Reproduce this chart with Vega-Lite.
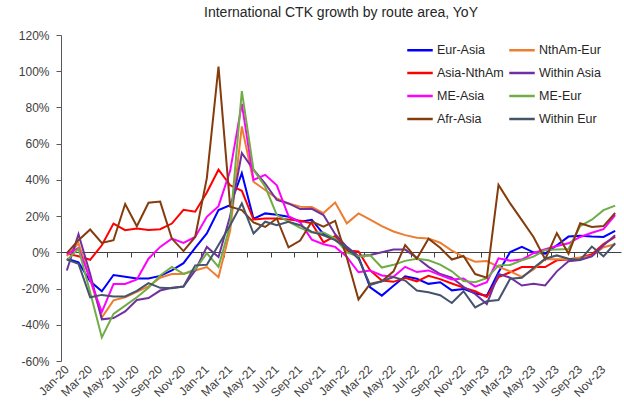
{
"$schema": "https://vega.github.io/schema/vega-lite/v6.json",
"width": 560, "height": 326,
"autosize": {"type": "none"},
"padding": {"left": 61, "top": 35, "right": 3, "bottom": 49},
"config": {"font": "Liberation Sans", "view": {"stroke": null}},
"title": {"text": "International CTK growth by route area, YoY", "fontSize": 14, "fontWeight": "normal", "color": "#262626", "offset": 9, "anchor": "middle"},
"data": {"values": [
{"m":"Jan-20","s":"Eur-Asia","v":-3.5},{"m":"Feb-20","s":"Eur-Asia","v":-5.5},{"m":"Mar-20","s":"Eur-Asia","v":-16},{"m":"Apr-20","s":"Eur-Asia","v":-21.5},{"m":"May-20","s":"Eur-Asia","v":-12.5},{"m":"Jun-20","s":"Eur-Asia","v":-13.5},{"m":"Jul-20","s":"Eur-Asia","v":-14.5},{"m":"Aug-20","s":"Eur-Asia","v":-14.5},{"m":"Sep-20","s":"Eur-Asia","v":-13},{"m":"Oct-20","s":"Eur-Asia","v":-10},{"m":"Nov-20","s":"Eur-Asia","v":-6},{"m":"Dec-20","s":"Eur-Asia","v":2.5},
{"m":"Jan-21","s":"Eur-Asia","v":10.4},{"m":"Feb-21","s":"Eur-Asia","v":23.3},{"m":"Mar-21","s":"Eur-Asia","v":26},{"m":"Apr-21","s":"Eur-Asia","v":43.7},{"m":"May-21","s":"Eur-Asia","v":18.5},{"m":"Jun-21","s":"Eur-Asia","v":21.5},{"m":"Jul-21","s":"Eur-Asia","v":20.8},{"m":"Aug-21","s":"Eur-Asia","v":19.6},{"m":"Sep-21","s":"Eur-Asia","v":16.9},{"m":"Oct-21","s":"Eur-Asia","v":18},{"m":"Nov-21","s":"Eur-Asia","v":10},{"m":"Dec-21","s":"Eur-Asia","v":7},
{"m":"Jan-22","s":"Eur-Asia","v":1.5},{"m":"Feb-22","s":"Eur-Asia","v":-2.5},{"m":"Mar-22","s":"Eur-Asia","v":-19.3},{"m":"Apr-22","s":"Eur-Asia","v":-23.9},{"m":"May-22","s":"Eur-Asia","v":-18.4},{"m":"Jun-22","s":"Eur-Asia","v":-13.2},{"m":"Jul-22","s":"Eur-Asia","v":-14.6},{"m":"Aug-22","s":"Eur-Asia","v":-17.4},{"m":"Sep-22","s":"Eur-Asia","v":-16.5},{"m":"Oct-22","s":"Eur-Asia","v":-21},{"m":"Nov-22","s":"Eur-Asia","v":-20.2},{"m":"Dec-22","s":"Eur-Asia","v":-22.6},
{"m":"Jan-23","s":"Eur-Asia","v":-24},{"m":"Feb-23","s":"Eur-Asia","v":-11},{"m":"Mar-23","s":"Eur-Asia","v":0.2},{"m":"Apr-23","s":"Eur-Asia","v":3},{"m":"May-23","s":"Eur-Asia","v":0},{"m":"Jun-23","s":"Eur-Asia","v":-0.7},{"m":"Jul-23","s":"Eur-Asia","v":3.9},{"m":"Aug-23","s":"Eur-Asia","v":8.7},{"m":"Sep-23","s":"Eur-Asia","v":9.2},{"m":"Oct-23","s":"Eur-Asia","v":8.7},{"m":"Nov-23","s":"Eur-Asia","v":8.5},{"m":"Dec-23","s":"Eur-Asia","v":11.9},

{"m":"Jan-20","s":"Asia-NthAm","v":-0.7},{"m":"Feb-20","s":"Asia-NthAm","v":-2.2},{"m":"Mar-20","s":"Asia-NthAm","v":-4.1},{"m":"Apr-20","s":"Asia-NthAm","v":3.9},{"m":"May-20","s":"Asia-NthAm","v":15.9},{"m":"Jun-20","s":"Asia-NthAm","v":12.2},{"m":"Jul-20","s":"Asia-NthAm","v":13.1},{"m":"Aug-20","s":"Asia-NthAm","v":12.4},{"m":"Sep-20","s":"Asia-NthAm","v":12.8},{"m":"Oct-20","s":"Asia-NthAm","v":15.9},{"m":"Nov-20","s":"Asia-NthAm","v":23.5},{"m":"Dec-20","s":"Asia-NthAm","v":22.4},
{"m":"Jan-21","s":"Asia-NthAm","v":33},{"m":"Feb-21","s":"Asia-NthAm","v":45.6},{"m":"Mar-21","s":"Asia-NthAm","v":37},{"m":"Apr-21","s":"Asia-NthAm","v":34},{"m":"May-21","s":"Asia-NthAm","v":18.1},{"m":"Jun-21","s":"Asia-NthAm","v":18.7},{"m":"Jul-21","s":"Asia-NthAm","v":18.7},{"m":"Aug-21","s":"Asia-NthAm","v":18.1},{"m":"Sep-21","s":"Asia-NthAm","v":17.4},{"m":"Oct-21","s":"Asia-NthAm","v":16},{"m":"Nov-21","s":"Asia-NthAm","v":5.5},{"m":"Dec-21","s":"Asia-NthAm","v":9},
{"m":"Jan-22","s":"Asia-NthAm","v":1},{"m":"Feb-22","s":"Asia-NthAm","v":0.5},{"m":"Mar-22","s":"Asia-NthAm","v":-10},{"m":"Apr-22","s":"Asia-NthAm","v":-15.6},{"m":"May-22","s":"Asia-NthAm","v":-16.3},{"m":"Jun-22","s":"Asia-NthAm","v":-14},{"m":"Jul-22","s":"Asia-NthAm","v":-16},{"m":"Aug-22","s":"Asia-NthAm","v":-13},{"m":"Sep-22","s":"Asia-NthAm","v":-14.8},{"m":"Oct-22","s":"Asia-NthAm","v":-17.2},{"m":"Nov-22","s":"Asia-NthAm","v":-19.5},{"m":"Dec-22","s":"Asia-NthAm","v":-21.5},
{"m":"Jan-23","s":"Asia-NthAm","v":-24.6},{"m":"Feb-23","s":"Asia-NthAm","v":-13.7},{"m":"Mar-23","s":"Asia-NthAm","v":-11},{"m":"Apr-23","s":"Asia-NthAm","v":-8.1},{"m":"May-23","s":"Asia-NthAm","v":-8.1},{"m":"Jun-23","s":"Asia-NthAm","v":-8.1},{"m":"Jul-23","s":"Asia-NthAm","v":-4.4},{"m":"Aug-23","s":"Asia-NthAm","v":-4},{"m":"Sep-23","s":"Asia-NthAm","v":-3},{"m":"Oct-23","s":"Asia-NthAm","v":-1},{"m":"Nov-23","s":"Asia-NthAm","v":4.5},{"m":"Dec-23","s":"Asia-NthAm","v":8.5},

{"m":"Jan-20","s":"NthAm-Eur","v":-2},{"m":"Feb-20","s":"NthAm-Eur","v":5},{"m":"Mar-20","s":"NthAm-Eur","v":-15},{"m":"Apr-20","s":"NthAm-Eur","v":-36},{"m":"May-20","s":"NthAm-Eur","v":-26.5},{"m":"Jun-20","s":"NthAm-Eur","v":-24.8},{"m":"Jul-20","s":"NthAm-Eur","v":-21.8},{"m":"Aug-20","s":"NthAm-Eur","v":-18.8},{"m":"Sep-20","s":"NthAm-Eur","v":-14},{"m":"Oct-20","s":"NthAm-Eur","v":-12},{"m":"Nov-20","s":"NthAm-Eur","v":-11.9},{"m":"Dec-20","s":"NthAm-Eur","v":-10},
{"m":"Jan-21","s":"NthAm-Eur","v":-8.1},{"m":"Feb-21","s":"NthAm-Eur","v":-13.7},{"m":"Mar-21","s":"NthAm-Eur","v":12},{"m":"Apr-21","s":"NthAm-Eur","v":69.5},{"m":"May-21","s":"NthAm-Eur","v":39},{"m":"Jun-21","s":"NthAm-Eur","v":34.4},{"m":"Jul-21","s":"NthAm-Eur","v":29.8},{"m":"Aug-21","s":"NthAm-Eur","v":27},{"m":"Sep-21","s":"NthAm-Eur","v":25.2},{"m":"Oct-21","s":"NthAm-Eur","v":25},{"m":"Nov-21","s":"NthAm-Eur","v":21.7},{"m":"Dec-21","s":"NthAm-Eur","v":27.5},
{"m":"Jan-22","s":"NthAm-Eur","v":16},{"m":"Feb-22","s":"NthAm-Eur","v":21.5},{"m":"Mar-22","s":"NthAm-Eur","v":18},{"m":"Apr-22","s":"NthAm-Eur","v":14.5},{"m":"May-22","s":"NthAm-Eur","v":11.5},{"m":"Jun-22","s":"NthAm-Eur","v":9.5},{"m":"Jul-22","s":"NthAm-Eur","v":8},{"m":"Aug-22","s":"NthAm-Eur","v":7.6},{"m":"Sep-22","s":"NthAm-Eur","v":5.3},{"m":"Oct-22","s":"NthAm-Eur","v":1},{"m":"Nov-22","s":"NthAm-Eur","v":-2.5},{"m":"Dec-22","s":"NthAm-Eur","v":-5.2},
{"m":"Jan-23","s":"NthAm-Eur","v":-4.8},{"m":"Feb-23","s":"NthAm-Eur","v":-8},{"m":"Mar-23","s":"NthAm-Eur","v":-10.5},{"m":"Apr-23","s":"NthAm-Eur","v":-13.5},{"m":"May-23","s":"NthAm-Eur","v":-9.5},{"m":"Jun-23","s":"NthAm-Eur","v":-3.8},{"m":"Jul-23","s":"NthAm-Eur","v":-3.8},{"m":"Aug-23","s":"NthAm-Eur","v":-3.8},{"m":"Sep-23","s":"NthAm-Eur","v":-2.8},{"m":"Oct-23","s":"NthAm-Eur","v":-2},{"m":"Nov-23","s":"NthAm-Eur","v":2.8},{"m":"Dec-23","s":"NthAm-Eur","v":4.5},

{"m":"Jan-20","s":"Within Asia","v":-10},{"m":"Feb-20","s":"Within Asia","v":10},{"m":"Mar-20","s":"Within Asia","v":-12},{"m":"Apr-20","s":"Within Asia","v":-37},{"m":"May-20","s":"Within Asia","v":-36.3},{"m":"Jun-20","s":"Within Asia","v":-32.6},{"m":"Jul-20","s":"Within Asia","v":-26.3},{"m":"Aug-20","s":"Within Asia","v":-25.2},{"m":"Sep-20","s":"Within Asia","v":-21.1},{"m":"Oct-20","s":"Within Asia","v":-19.6},{"m":"Nov-20","s":"Within Asia","v":-18.9},{"m":"Dec-20","s":"Within Asia","v":-10},
{"m":"Jan-21","s":"Within Asia","v":3},{"m":"Feb-21","s":"Within Asia","v":-2.6},{"m":"Mar-21","s":"Within Asia","v":20},{"m":"Apr-21","s":"Within Asia","v":54.8},{"m":"May-21","s":"Within Asia","v":45.6},{"m":"Jun-21","s":"Within Asia","v":38},{"m":"Jul-21","s":"Within Asia","v":28.9},{"m":"Aug-21","s":"Within Asia","v":27},{"m":"Sep-21","s":"Within Asia","v":23.9},{"m":"Oct-21","s":"Within Asia","v":24},{"m":"Nov-21","s":"Within Asia","v":20.6},{"m":"Dec-21","s":"Within Asia","v":10},
{"m":"Jan-22","s":"Within Asia","v":3},{"m":"Feb-22","s":"Within Asia","v":-2},{"m":"Mar-22","s":"Within Asia","v":-1.5},{"m":"Apr-22","s":"Within Asia","v":0},{"m":"May-22","s":"Within Asia","v":1.5},{"m":"Jun-22","s":"Within Asia","v":1.5},{"m":"Jul-22","s":"Within Asia","v":-3},{"m":"Aug-22","s":"Within Asia","v":-8},{"m":"Sep-22","s":"Within Asia","v":-12},{"m":"Oct-22","s":"Within Asia","v":-14},{"m":"Nov-22","s":"Within Asia","v":-19},{"m":"Dec-22","s":"Within Asia","v":-23},
{"m":"Jan-23","s":"Within Asia","v":-28.5},{"m":"Feb-23","s":"Within Asia","v":-11.9},{"m":"Mar-23","s":"Within Asia","v":-14},{"m":"Apr-23","s":"Within Asia","v":-18.3},{"m":"May-23","s":"Within Asia","v":-17.4},{"m":"Jun-23","s":"Within Asia","v":-18.3},{"m":"Jul-23","s":"Within Asia","v":-10.5},{"m":"Aug-23","s":"Within Asia","v":-4.9},{"m":"Sep-23","s":"Within Asia","v":-4.2},{"m":"Oct-23","s":"Within Asia","v":-2.2},{"m":"Nov-23","s":"Within Asia","v":3.9},{"m":"Dec-23","s":"Within Asia","v":9.4},

{"m":"Jan-20","s":"ME-Asia","v":-1},{"m":"Feb-20","s":"ME-Asia","v":2.5},{"m":"Mar-20","s":"ME-Asia","v":-15},{"m":"Apr-20","s":"ME-Asia","v":-33},{"m":"May-20","s":"ME-Asia","v":-17.5},{"m":"Jun-20","s":"ME-Asia","v":-17.5},{"m":"Jul-20","s":"ME-Asia","v":-15},{"m":"Aug-20","s":"ME-Asia","v":-3.5},{"m":"Sep-20","s":"ME-Asia","v":3},{"m":"Oct-20","s":"ME-Asia","v":7.6},{"m":"Nov-20","s":"ME-Asia","v":5.2},{"m":"Dec-20","s":"ME-Asia","v":8.5},
{"m":"Jan-21","s":"ME-Asia","v":19.6},{"m":"Feb-21","s":"ME-Asia","v":25.5},{"m":"Mar-21","s":"ME-Asia","v":45},{"m":"Apr-21","s":"ME-Asia","v":82},{"m":"May-21","s":"ME-Asia","v":40},{"m":"Jun-21","s":"ME-Asia","v":42.8},{"m":"Jul-21","s":"ME-Asia","v":37},{"m":"Aug-21","s":"ME-Asia","v":20},{"m":"Sep-21","s":"ME-Asia","v":16.5},{"m":"Oct-21","s":"ME-Asia","v":7},{"m":"Nov-21","s":"ME-Asia","v":4.5},{"m":"Dec-21","s":"ME-Asia","v":3},
{"m":"Jan-22","s":"ME-Asia","v":-2.5},{"m":"Feb-22","s":"ME-Asia","v":-11},{"m":"Mar-22","s":"ME-Asia","v":-10},{"m":"Apr-22","s":"ME-Asia","v":-12.8},{"m":"May-22","s":"ME-Asia","v":-13.5},{"m":"Jun-22","s":"ME-Asia","v":-8},{"m":"Jul-22","s":"ME-Asia","v":-10.9},{"m":"Aug-22","s":"ME-Asia","v":-10},{"m":"Sep-22","s":"ME-Asia","v":-12.6},{"m":"Oct-22","s":"ME-Asia","v":-15},{"m":"Nov-22","s":"ME-Asia","v":-14.5},{"m":"Dec-22","s":"ME-Asia","v":-18.9},
{"m":"Jan-23","s":"ME-Asia","v":-16.5},{"m":"Feb-23","s":"ME-Asia","v":-3.3},{"m":"Mar-23","s":"ME-Asia","v":-4.6},{"m":"Apr-23","s":"ME-Asia","v":-4},{"m":"May-23","s":"ME-Asia","v":-0.5},{"m":"Jun-23","s":"ME-Asia","v":1.7},{"m":"Jul-23","s":"ME-Asia","v":3.5},{"m":"Aug-23","s":"ME-Asia","v":5},{"m":"Sep-23","s":"ME-Asia","v":8.5},{"m":"Oct-23","s":"ME-Asia","v":10.8},{"m":"Nov-23","s":"ME-Asia","v":12.8},{"m":"Dec-23","s":"ME-Asia","v":20.6},

{"m":"Jan-20","s":"ME-Eur","v":-4.4},{"m":"Feb-20","s":"ME-Eur","v":2},{"m":"Mar-20","s":"ME-Eur","v":-22},{"m":"Apr-20","s":"ME-Eur","v":-47},{"m":"May-20","s":"ME-Eur","v":-34},{"m":"Jun-20","s":"ME-Eur","v":-29.4},{"m":"Jul-20","s":"ME-Eur","v":-24.8},{"m":"Aug-20","s":"ME-Eur","v":-19.6},{"m":"Sep-20","s":"ME-Eur","v":-12.8},{"m":"Oct-20","s":"ME-Eur","v":-8.1},{"m":"Nov-20","s":"ME-Eur","v":-11.9},{"m":"Dec-20","s":"ME-Eur","v":-9.5},
{"m":"Jan-21","s":"ME-Eur","v":-0.5},{"m":"Feb-21","s":"ME-Eur","v":-8},{"m":"Mar-21","s":"ME-Eur","v":15},{"m":"Apr-21","s":"ME-Eur","v":89},{"m":"May-21","s":"ME-Eur","v":45.6},{"m":"Jun-21","s":"ME-Eur","v":36.3},{"m":"Jul-21","s":"ME-Eur","v":20.6},{"m":"Aug-21","s":"ME-Eur","v":17},{"m":"Sep-21","s":"ME-Eur","v":13.5},{"m":"Oct-21","s":"ME-Eur","v":11},{"m":"Nov-21","s":"ME-Eur","v":11},{"m":"Dec-21","s":"ME-Eur","v":7.6},
{"m":"Jan-22","s":"ME-Eur","v":0},{"m":"Feb-22","s":"ME-Eur","v":-2.3},{"m":"Mar-22","s":"ME-Eur","v":-1.7},{"m":"Apr-22","s":"ME-Eur","v":-8.4},{"m":"May-22","s":"ME-Eur","v":-6.9},{"m":"Jun-22","s":"ME-Eur","v":-4.7},{"m":"Jul-22","s":"ME-Eur","v":-3.5},{"m":"Aug-22","s":"ME-Eur","v":-4.4},{"m":"Sep-22","s":"ME-Eur","v":-6.8},{"m":"Oct-22","s":"ME-Eur","v":-10.5},{"m":"Nov-22","s":"ME-Eur","v":-15.8},{"m":"Dec-22","s":"ME-Eur","v":-16.5},
{"m":"Jan-23","s":"ME-Eur","v":-14.3},{"m":"Feb-23","s":"ME-Eur","v":-7.2},{"m":"Mar-23","s":"ME-Eur","v":-7},{"m":"Apr-23","s":"ME-Eur","v":-4.4},{"m":"May-23","s":"ME-Eur","v":-2.4},{"m":"Jun-23","s":"ME-Eur","v":1.3},{"m":"Jul-23","s":"ME-Eur","v":1.5},{"m":"Aug-23","s":"ME-Eur","v":1.8},{"m":"Sep-23","s":"ME-Eur","v":14.5},{"m":"Oct-23","s":"ME-Eur","v":18},{"m":"Nov-23","s":"ME-Eur","v":23.3},{"m":"Dec-23","s":"ME-Eur","v":25.8},

{"m":"Jan-20","s":"Afr-Asia","v":-0.4},{"m":"Feb-20","s":"Afr-Asia","v":6.7},{"m":"Mar-20","s":"Afr-Asia","v":12.6},{"m":"Apr-20","s":"Afr-Asia","v":5.2},{"m":"May-20","s":"Afr-Asia","v":6.7},{"m":"Jun-20","s":"Afr-Asia","v":26.7},{"m":"Jul-20","s":"Afr-Asia","v":14.4},{"m":"Aug-20","s":"Afr-Asia","v":27.4},{"m":"Sep-20","s":"Afr-Asia","v":28},{"m":"Oct-20","s":"Afr-Asia","v":7.6},{"m":"Nov-20","s":"Afr-Asia","v":0.7},{"m":"Dec-20","s":"Afr-Asia","v":8.5},
{"m":"Jan-21","s":"Afr-Asia","v":41},{"m":"Feb-21","s":"Afr-Asia","v":102.6},{"m":"Mar-21","s":"Afr-Asia","v":25.2},{"m":"Apr-21","s":"Afr-Asia","v":23.3},{"m":"May-21","s":"Afr-Asia","v":16.5},{"m":"Jun-21","s":"Afr-Asia","v":14},{"m":"Jul-21","s":"Afr-Asia","v":18.7},{"m":"Aug-21","s":"Afr-Asia","v":2.8},{"m":"Sep-21","s":"Afr-Asia","v":6.5},{"m":"Oct-21","s":"Afr-Asia","v":17},{"m":"Nov-21","s":"Afr-Asia","v":14.2},{"m":"Dec-21","s":"Afr-Asia","v":17.4},
{"m":"Jan-22","s":"Afr-Asia","v":-3},{"m":"Feb-22","s":"Afr-Asia","v":-26},{"m":"Mar-22","s":"Afr-Asia","v":-17.4},{"m":"Apr-22","s":"Afr-Asia","v":-16},{"m":"May-22","s":"Afr-Asia","v":-10.5},{"m":"Jun-22","s":"Afr-Asia","v":4},{"m":"Jul-22","s":"Afr-Asia","v":-3.5},{"m":"Aug-22","s":"Afr-Asia","v":7.5},{"m":"Sep-22","s":"Afr-Asia","v":2.5},{"m":"Oct-22","s":"Afr-Asia","v":-4},{"m":"Nov-22","s":"Afr-Asia","v":-2},{"m":"Dec-22","s":"Afr-Asia","v":-12},
{"m":"Jan-23","s":"Afr-Asia","v":-14},{"m":"Feb-23","s":"Afr-Asia","v":37.2},{"m":"Mar-23","s":"Afr-Asia","v":27},{"m":"Apr-23","s":"Afr-Asia","v":17.8},{"m":"May-23","s":"Afr-Asia","v":8.5},{"m":"Jun-23","s":"Afr-Asia","v":-3.8},{"m":"Jul-23","s":"Afr-Asia","v":10.6},{"m":"Aug-23","s":"Afr-Asia","v":-0.7},{"m":"Sep-23","s":"Afr-Asia","v":16},{"m":"Oct-23","s":"Afr-Asia","v":14},{"m":"Nov-23","s":"Afr-Asia","v":14.5},{"m":"Dec-23","s":"Afr-Asia","v":21.7},

{"m":"Jan-20","s":"Within Eur","v":-4},{"m":"Feb-20","s":"Within Eur","v":-6.3},{"m":"Mar-20","s":"Within Eur","v":-24.8},{"m":"Apr-20","s":"Within Eur","v":-23.5},{"m":"May-20","s":"Within Eur","v":-24.4},{"m":"Jun-20","s":"Within Eur","v":-24.4},{"m":"Jul-20","s":"Within Eur","v":-21.3},{"m":"Aug-20","s":"Within Eur","v":-17},{"m":"Sep-20","s":"Within Eur","v":-19.6},{"m":"Oct-20","s":"Within Eur","v":-19.8},{"m":"Nov-20","s":"Within Eur","v":-18.9},{"m":"Dec-20","s":"Within Eur","v":-7.2},
{"m":"Jan-21","s":"Within Eur","v":-6.9},{"m":"Feb-21","s":"Within Eur","v":4},{"m":"Mar-21","s":"Within Eur","v":15},{"m":"Apr-21","s":"Within Eur","v":27},{"m":"May-21","s":"Within Eur","v":10.4},{"m":"Jun-21","s":"Within Eur","v":16.9},{"m":"Jul-21","s":"Within Eur","v":15},{"m":"Aug-21","s":"Within Eur","v":16.9},{"m":"Sep-21","s":"Within Eur","v":15},{"m":"Oct-21","s":"Within Eur","v":11.3},{"m":"Nov-21","s":"Within Eur","v":9.4},{"m":"Dec-21","s":"Within Eur","v":6.7},
{"m":"Jan-22","s":"Within Eur","v":2.5},{"m":"Feb-22","s":"Within Eur","v":-3.5},{"m":"Mar-22","s":"Within Eur","v":-18},{"m":"Apr-22","s":"Within Eur","v":-16},{"m":"May-22","s":"Within Eur","v":-13.7},{"m":"Jun-22","s":"Within Eur","v":-15.6},{"m":"Jul-22","s":"Within Eur","v":-21.1},{"m":"Aug-22","s":"Within Eur","v":-22},{"m":"Sep-22","s":"Within Eur","v":-23.7},{"m":"Oct-22","s":"Within Eur","v":-28},{"m":"Nov-22","s":"Within Eur","v":-21.5},{"m":"Dec-22","s":"Within Eur","v":-30.4},
{"m":"Jan-23","s":"Within Eur","v":-27},{"m":"Feb-23","s":"Within Eur","v":-26.3},{"m":"Mar-23","s":"Within Eur","v":-14.6},{"m":"Apr-23","s":"Within Eur","v":-14},{"m":"May-23","s":"Within Eur","v":-8.6},{"m":"Jun-23","s":"Within Eur","v":-3.5},{"m":"Jul-23","s":"Within Eur","v":-1.7},{"m":"Aug-23","s":"Within Eur","v":-3.5},{"m":"Sep-23","s":"Within Eur","v":-4.2},{"m":"Oct-23","s":"Within Eur","v":3.2},{"m":"Nov-23","s":"Within Eur","v":-2.2},{"m":"Dec-23","s":"Within Eur","v":5}
]},
"resolve": {"axis": {"x": "independent"}},
"layer": [
{
"mark": {"type": "line", "strokeWidth": 2},
"encoding": {
"x": {"field": "m", "type": "ordinal", "sort": null,
"scale": {"type": "band", "paddingInner": 0, "paddingOuter": 0},
"axis": {"orient": "bottom", "title": null, "domain": false, "ticks": false, "tickSize": 0, "labelAngle": -45, "labelAlign": "right", "labelBaseline": "middle", "labelPadding": 6, "labelFontSize": 12, "labelColor": "#404040", "bandPosition": 0.5, "labelOverlap": false,
"values": ["Jan-20","Mar-20","May-20","Jul-20","Sep-20","Nov-20","Jan-21","Mar-21","May-21","Jul-21","Sep-21","Nov-21","Jan-22","Mar-22","May-22","Jul-22","Sep-22","Nov-22","Jan-23","Mar-23","May-23","Jul-23","Sep-23","Nov-23"]}},
"y": {"field": "v", "type": "quantitative",
"scale": {"domain": [-60, 120], "nice": false, "zero": false},
"axis": {"title": null, "grid": false, "values": [-60,-40,-20,0,20,40,60,80,100,120], "labelExpr": "datum.value + '%'", "labelOverlap": false, "labelFlush": false, "domain": true, "domainColor": "#595959", "tickColor": "#595959", "tickSize": 5, "labelPadding": 7, "labelFontSize": 12, "labelColor": "#404040"}},
"color": {"field": "s", "type": "nominal",
"scale": {"domain": ["Eur-Asia","Asia-NthAm","ME-Asia","Afr-Asia","NthAm-Eur","Within Asia","ME-Eur","Within Eur"],
"range": ["#0000FF","#FF0000","#FF00FF","#843C0C","#ED7D31","#7030A0","#70AD47","#44546A"]},
"legend": {"title": null, "orient": "none", "legendX": 345, "legendY": 1, "columns": 2, "symbolType": "stroke", "symbolSize": 650, "symbolStrokeWidth": 2.5, "labelFontSize": 12.5, "labelColor": "#262626", "labelOffset": 3, "rowPadding": 2, "columnPadding": 0, "padding": 0}}
}
},
{
"mark": {"type": "point", "opacity": 0},
"encoding": {
"x": {"field": "m", "type": "ordinal", "sort": null,
"axis": {"orient": "bottom", "offset": -109, "title": null, "labels": false, "domain": true, "domainColor": "#404040", "ticks": true, "tickColor": "#404040", "tickSize": 5, "bandPosition": 0,
"values": ["Jan-20","Mar-20","May-20","Jul-20","Sep-20","Nov-20","Jan-21","Mar-21","May-21","Jul-21","Sep-21","Nov-21","Jan-22","Mar-22","May-22","Jul-22","Sep-22","Nov-22","Jan-23","Mar-23","May-23","Jul-23","Sep-23","Nov-23"]}}
}
}
]
}
